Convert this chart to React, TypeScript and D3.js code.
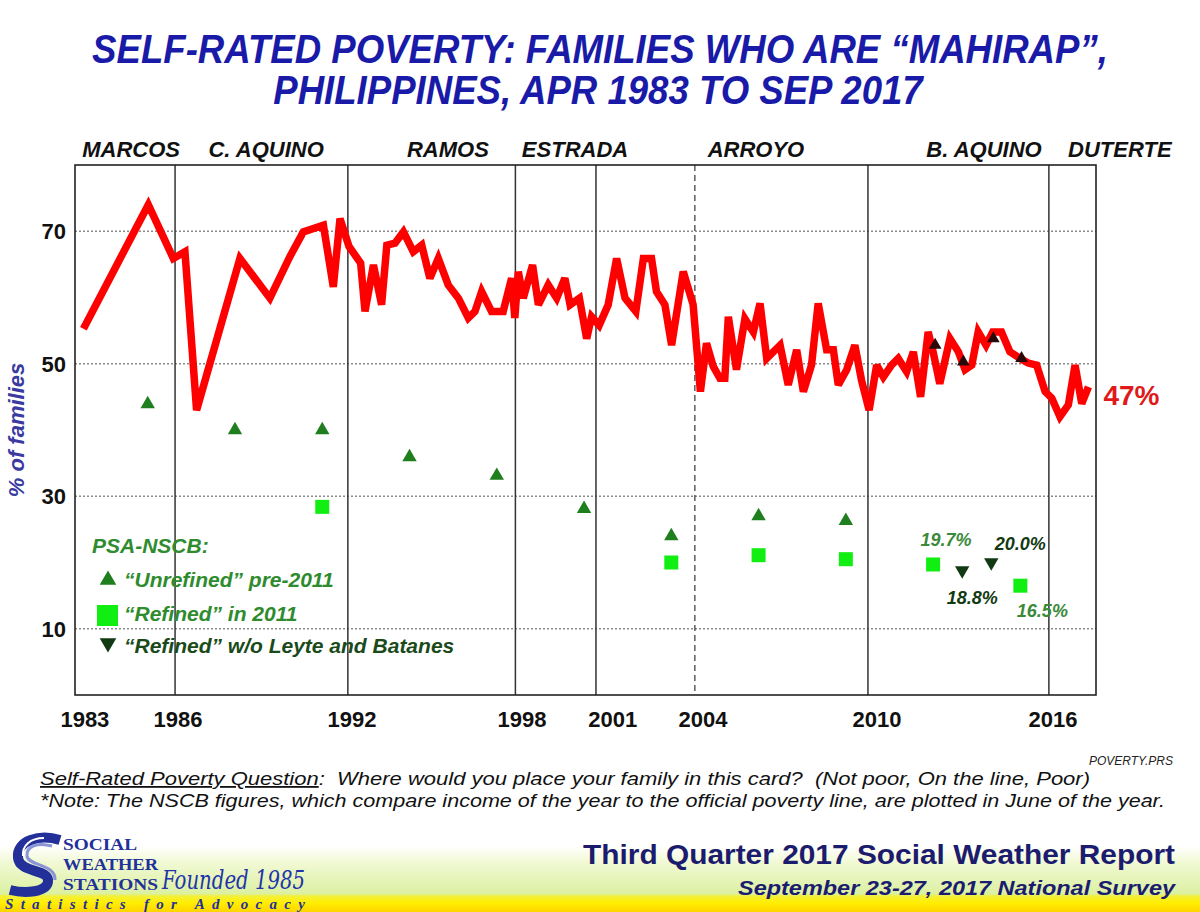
import React from 'react';
import * as d3 from 'd3';

// ---- Data ----
const srpYears = [
  1983.29, 1985.52, 1986.38, 1986.78, 1987.18, 1988.67, 1989.70, 1990.39, 1990.85, 1991.54,
  1991.88, 1992.11, 1992.42, 1992.82, 1992.97, 1993.26, 1993.54, 1993.72, 1994.0, 1994.29,
  1994.63, 1994.92, 1995.20, 1995.49, 1995.83, 1996.18, 1996.52, 1996.75, 1996.98, 1997.32,
  1997.72, 1998.01, 1998.12, 1998.24, 1998.41, 1998.73, 1998.93, 1999.27, 1999.56, 1999.84,
  2000.02, 2000.34, 2000.59, 2000.76, 2001.02, 2001.33, 2001.62, 2001.91, 2002.28, 2002.54,
  2002.82, 2002.99, 2003.28, 2003.51, 2003.91, 2004.25, 2004.50, 2004.71, 2004.94, 2005.17,
  2005.34, 2005.46, 2005.74, 2006.03, 2006.32, 2006.55, 2006.78, 2007.24, 2007.52, 2007.81,
  2008.04, 2008.32, 2008.55, 2008.84, 2009.07, 2009.24, 2009.53, 2009.81, 2010.04, 2010.30,
  2010.56, 2010.79, 2011.07, 2011.30, 2011.59, 2011.82, 2012.07, 2012.33, 2012.50, 2012.73,
  2013.08, 2013.37, 2013.60, 2013.83, 2014.05, 2014.32, 2014.55, 2014.85, 2015.14, 2015.49,
  2015.77, 2016.06, 2016.35, 2016.58, 2016.86, 2017.15, 2017.38, 2017.61, 2017.84,
];
const srpValues = [
  55.3, 74.0, 65.9, 66.9, 43.0, 65.9, 59.9, 66.2, 69.9, 70.9,
  61.6, 71.9, 67.7, 65.2, 57.9, 64.9, 58.9, 67.9, 68.2, 69.9,
  66.9, 67.9, 62.9, 65.9, 61.9, 59.9, 56.9, 57.9, 60.9, 57.9,
  57.9, 62.9, 56.9, 63.9, 59.9, 64.9, 58.9, 61.9, 59.9, 62.9,
  58.9, 59.9, 53.8, 57.1, 55.8, 58.9, 65.9, 59.9, 57.9, 65.9,
  65.9, 60.9, 58.9, 52.8, 63.9, 58.9, 45.8, 53.1, 49.6, 47.8,
  47.8, 57.1, 49.1, 56.8, 54.8, 59.1, 50.8, 52.8, 46.8, 52.1,
  45.8, 49.8, 59.1, 52.1, 52.1, 46.8, 49.1, 52.8, 47.5, 43.0,
  49.8, 48.0, 49.8, 50.8, 48.8, 51.8, 45.0, 54.8, 51.8, 47.0,
  53.8, 51.8, 49.1, 49.8, 54.8, 52.8, 54.8, 54.8, 51.8, 50.8,
  50.1, 49.8, 45.8, 44.8, 42.0, 43.8, 49.8, 44.0, 46.5,
];

const halfYearYears = [2012.57, 2013.54, 2014.57, 2015.54];
const halfYearValues = [52.8, 50.3, 53.8, 50.8];

const unrefinedYears = [1985.5, 1988.5, 1991.5, 1994.5, 1997.5, 2000.5, 2003.5, 2006.5, 2009.5];
const unrefinedValues = [43.9, 40.0, 40.0, 35.9, 33.1, 28.1, 24.0, 27.0, 26.3];

const refinedYears = [1991.5, 2003.5, 2006.5, 2009.5, 2012.5, 2015.5];
const refinedValues = [28.4, 20.0, 21.1, 20.5, 19.7, 16.5];

const leyteYears = [2013.5, 2014.5];
const leyteValues = [18.8, 20.0];

const dividerYears = [1986.44, 1992.38, 1998.14, 2000.91, 2004.31, 2010.26, 2016.48];
const dividerDashed = [false, false, false, false, true, false, false];

const tickLabels = ['1983', '1986', '1992', '1998', '2001', '2004', '2010', '2016'];
const tickLabelYears = [1983.34, 1986.54, 1992.52, 1998.37, 2001.49, 2004.59, 2010.57, 2016.62];

const yTicks = [10, 30, 50, 70];

const presidents = ['MARCOS', 'C. AQUINO', 'RAMOS', 'ESTRADA', 'ARROYO', 'B. AQUINO', 'DUTERTE'];
const presidentYears = [1984.93, 1989.57, 1995.82, 2000.19, 2006.41, 2014.25, 2018.92];

const lastLabel = '47%';

const FONT = "'Liberation Sans', Arial, Helvetica, sans-serif";

export default function App() {
  const W = 1200;
  const H = 912;
  const x = d3.scaleLinear().domain([1983, 2018.1]).range([75, 1096]);
  const y = d3.scaleLinear().domain([0, 80]).range([695, 165]);

  const linePath = d3
    .line<number>()
    .x((_, i) => x(srpYears[i]))
    .y((d) => y(d))(srpValues) || '';

  const tri = d3.symbol(d3.symbolTriangle, 90)() || '';
  const triSmall = d3.symbol(d3.symbolTriangle, 70)() || '';
  const triLegend = d3.symbol(d3.symbolTriangle, 120)() || '';

  const green = '#1f7f1f';
  const lightGreen = '#11ee11';
  const darkGreen = '#123a12';
  const labelGreen = '#3a8a3a';

  const lastX = x(srpYears[srpYears.length - 1]);
  const lastY = y(srpValues[srpValues.length - 1]);

  return (
    <div style={{ position: 'absolute', left: 0, top: 0 }}>
      <svg width={W} height={H} viewBox={`0 0 ${W} ${H}`} style={{ display: 'block', background: '#fff' }}>
        <defs>
          <linearGradient id="foot" x1="0" y1="0" x2="0" y2="1">
            <stop offset="0" stopColor="#ffffff" />
            <stop offset="0.25" stopColor="#f1f9d4" />
            <stop offset="0.72" stopColor="#dcf0a2" />
            <stop offset="0.76" stopColor="#f3f03a" />
            <stop offset="0.86" stopColor="#ffee00" />
            <stop offset="1" stopColor="#ffd400" />
          </linearGradient>
        </defs>
        <rect x={0} y={0} width={W} height={H} fill="#fff" />

        {/* Title */}
        <text transform="translate(600,63) scale(0.915,1)" textAnchor="middle" fontFamily={FONT}
          fontWeight="bold" fontStyle="italic" fontSize={40} fill="#1a1aa8">
          SELF-RATED POVERTY: FAMILIES WHO ARE “MAHIRAP”,
        </text>
        <text transform="translate(598,104) scale(0.915,1)" textAnchor="middle" fontFamily={FONT}
          fontWeight="bold" fontStyle="italic" fontSize={40} fill="#1a1aa8">
          PHILIPPINES, APR 1983 TO SEP 2017
        </text>

        {/* President labels */}
        {presidents.map((p, i) => (
          <text key={p} x={x(presidentYears[i])} y={157} textAnchor="middle" fontFamily={FONT}
            fontWeight="bold" fontStyle="italic" fontSize={22} fill="#111">
            {p}
          </text>
        ))}

        {/* Grid lines */}
        {yTicks.map((t) => (
          <line key={t} x1={x.range()[0]} x2={x.range()[1]} y1={y(t)} y2={y(t)}
            stroke="#8a8a8a" strokeWidth={1.3} strokeDasharray="2,2" />
        ))}

        {/* Dividers */}
        {dividerYears.map((d, i) => (
          <line key={d} x1={x(d)} x2={x(d)} y1={y(80)} y2={y(0)} stroke="#333"
            strokeWidth={dividerDashed[i] ? 1.2 : 1.5} strokeDasharray={dividerDashed[i] ? '6,4' : undefined} />
        ))}

        {/* Frame */}
        <rect x={x.range()[0]} y={y(80)} width={x.range()[1] - x.range()[0]} height={y(0) - y(80)}
          fill="none" stroke="#222" strokeWidth={1.6} />

        {/* Y tick labels */}
        {yTicks.map((t) => (
          <text key={t} x={66} y={y(t) + 8} textAnchor="end" fontFamily={FONT} fontWeight="bold"
            fontSize={22} fill="#111">
            {t}
          </text>
        ))}
        <text transform={`translate(24,430) rotate(-90)`} textAnchor="middle" fontFamily={FONT}
          fontWeight="bold" fontStyle="italic" fontSize={22} fill="#3a3aa0">
          % of families
        </text>

        {/* X tick labels */}
        {tickLabels.map((t, i) => (
          <text key={t} x={x(tickLabelYears[i])} y={727} textAnchor="middle" fontFamily={FONT}
            fontWeight="bold" fontSize={22} fill="#111">
            {t}
          </text>
        ))}

        {/* NSCB markers */}
        {unrefinedYears.map((yr, i) => (
          <path key={'u' + yr} d={tri} transform={`translate(${x(yr)},${y(unrefinedValues[i])})`} fill={green} />
        ))}
        {refinedYears.map((yr, i) => (
          <rect key={'r' + yr} x={x(yr) - 7} y={y(refinedValues[i]) - 7} width={14} height={14} fill={lightGreen} />
        ))}
        {leyteYears.map((yr, i) => (
          <path key={'l' + yr} d={tri} transform={`translate(${x(yr)},${y(leyteValues[i])}) rotate(180)`} fill={darkGreen} />
        ))}

        {/* SRP line */}
        <path d={linePath} fill="none" stroke="#ff0000" strokeWidth={7.5} strokeLinejoin="miter"
          strokeMiterlimit={3} />
        {halfYearYears.map((yr, i) => (
          <path key={'h' + yr} d={triSmall} transform={`translate(${x(yr)},${y(halfYearValues[i])})`} fill="#2a0808" />
        ))}

        {/* Last value label */}
        <text x={lastX + 15} y={lastY + 18} fontFamily={FONT} fontWeight="bold" fontSize={28} fill="#e01a1a">
          {lastLabel}
        </text>

        {/* Value labels */}
        <text x={x(refinedYears[4]) + 13} y={y(refinedValues[4]) - 18} textAnchor="middle" fontFamily={FONT}
          fontWeight="bold" fontStyle="italic" fontSize={18} fill={labelGreen}>
          {refinedValues[4].toFixed(1)}%
        </text>
        <text x={x(refinedYears[5]) + 22} y={y(refinedValues[5]) + 31} textAnchor="middle" fontFamily={FONT}
          fontWeight="bold" fontStyle="italic" fontSize={18} fill={labelGreen}>
          {refinedValues[5].toFixed(1)}%
        </text>
        <text x={x(leyteYears[0]) + 10} y={y(leyteValues[0]) + 34} textAnchor="middle" fontFamily={FONT}
          fontWeight="bold" fontStyle="italic" fontSize={18} fill={darkGreen}>
          {leyteValues[0].toFixed(1)}%
        </text>
        <text x={x(leyteYears[1]) + 29} y={y(leyteValues[1]) - 13} textAnchor="middle" fontFamily={FONT}
          fontWeight="bold" fontStyle="italic" fontSize={18} fill={darkGreen}>
          {leyteValues[1].toFixed(1)}%
        </text>

        {/* Legend */}
        <g fontFamily={FONT} fontWeight="bold" fontStyle="italic" fontSize={21}>
          <text x={92} y={553} fill="#2e8b2e">PSA-NSCB:</text>
          <path d={triLegend} transform="translate(108,580)" fill={green} />
          <text x={124} y={587} fill="#2e8b2e">“Unrefined” pre-2011</text>
          <rect x={97} y={605} width={21} height={21} fill={lightGreen} />
          <text x={124} y={621} fill="#2e8b2e">“Refined” in 2011</text>
          <path d={triLegend} transform="translate(108,643) rotate(180)" fill={darkGreen} />
          <text x={124} y={653} fill="#1a4a1a">“Refined” w/o Leyte and Batanes</text>
        </g>

        {/* Notes */}
        <text x={1173} y={765} textAnchor="end" fontFamily={FONT} fontStyle="italic" fontSize={12} fill="#222">
          POVERTY.PRS
        </text>
        <text x={40} y={785} fontFamily={FONT} fontStyle="italic" fontSize={18} fill="#111"
          textLength={1050} lengthAdjust="spacingAndGlyphs">
          <tspan textDecoration="underline">Self-Rated Poverty Question</tspan>
          {':\u00a0 Where would you place your family in this card?\u00a0 (Not poor, On the line, Poor)'}
        </text>
        <text x={40} y={807} fontFamily={FONT} fontStyle="italic" fontSize={18} fill="#111"
          textLength={1125} lengthAdjust="spacingAndGlyphs">
          *Note: The NSCB figures, which compare income of the year to the official poverty line, are plotted in June of the year.
        </text>

        {/* Footer band */}
        <rect x={0} y={846} width={W} height={66} fill="url(#foot)" />
        <text x={1175} y={864} textAnchor="end" fontFamily={FONT} fontWeight="bold" fontSize={28}
          fill="#1c1c6e" textLength={592} lengthAdjust="spacingAndGlyphs">
          Third Quarter 2017 Social Weather Report
        </text>
        <text x={1175} y={895} textAnchor="end" fontFamily={FONT} fontWeight="bold" fontStyle="italic"
          fontSize={21} fill="#1c1c6e" textLength={437} lengthAdjust="spacingAndGlyphs">
          September 23-27, 2017 National Survey
        </text>

        {/* SWS logo */}
        <g>
          <path d="M60,840 C40,834 16,840 18,858 C20,874 50,868 48,882 C46,892 26,894 10,890"
            fill="none" stroke="#23309a" strokeWidth={10} />
          <path d="M52,846 C38,842 26,846 27,856 C28,866 56,864 55,880"
            fill="none" stroke="#8a95d8" strokeWidth={3} />
          <path d="M44,838 C30,838 22,846 23,856"
            fill="none" stroke="#ffffff" strokeWidth={2} />
        </g>
        <g fontFamily="'Liberation Serif', 'Times New Roman', serif" fontWeight="bold" fill="#22309a">
          <text x={63} y={850} fontSize={17} textLength={74} lengthAdjust="spacingAndGlyphs">SOCIAL</text>
          <text x={63} y={870} fontSize={17} textLength={95} lengthAdjust="spacingAndGlyphs">WEATHER</text>
          <text x={63} y={890} fontSize={17} textLength={95} lengthAdjust="spacingAndGlyphs">STATIONS</text>
        </g>
        <text x={162} y={889} fontFamily="'DejaVu Serif', serif" fontStyle="italic" fontSize={26}
          fill="#2233aa" textLength={143} lengthAdjust="spacingAndGlyphs">
          Founded 1985
        </text>
        <text x={5} y={909} fontFamily="'Liberation Serif', serif" fontStyle="italic" fontWeight="bold"
          fontSize={15} fill="#22309a" textLength={300} lengthAdjust="spacing">
          Statistics for Advocacy
        </text>
      </svg>
    </div>
  );
}
